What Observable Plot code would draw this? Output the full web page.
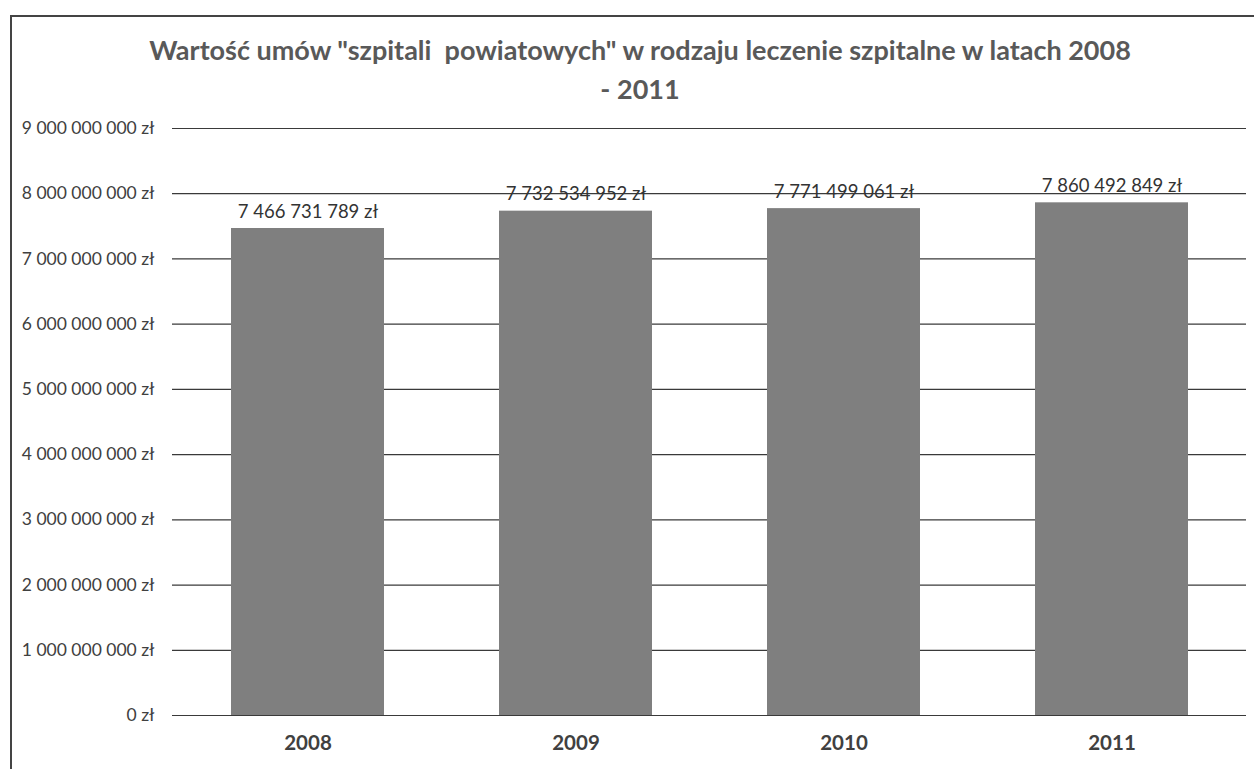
<!DOCTYPE html>
<html>
<head>
<meta charset="utf-8">
<script src="https://cdn.jsdelivr.net/npm/d3@7"></script>
<script src="https://cdn.jsdelivr.net/npm/@observablehq/plot@0.6"></script>
<style>
  html, body { margin: 0; padding: 0; background: #fff; overflow: hidden; }
  #wrap { position: relative; width: 1254px; height: 769px; overflow: hidden; font-family: Lato, "Open Sans", sans-serif; }
  #chart { position: absolute; left: 0; top: 0; }
  #frameL { position: absolute; left: 10px; top: 16px; width: 1.5px; height: 760px; background: #444; }
  #frameT { position: absolute; left: 10px; top: 15px; width: 1250px; height: 1.5px; background: #444; }
  #title { position: absolute; left: 0; top: 30px; width: 1280px; text-align: center; font-weight: bold; font-size: 27px; line-height: 39px; color: #595959; }
</style>
</head>
<body>
<div id="wrap">
  <div id="chart"></div>
  <div id="frameL"></div>
  <div id="frameT"></div>
  <div id="title">Wartość umów "szpitali&nbsp; powiatowych" w rodzaju leczenie szpitalne w latach 2008<br>- 2011</div>
</div>
<script>
const years = ["2008", "2009", "2010", "2011"];
const values = [7466731789, 7732534952, 7771499061, 7860492849];
const yTicks = [0, 1e9, 2e9, 3e9, 4e9, 5e9, 6e9, 7e9, 8e9, 9e9];

const data = years.map((y, i) => ({year: y, value: values[i]}));
const fmt = v => d3.format(",")(v).replace(/,/g, " ") + " zł";

const chart = Plot.plot({
  width: 1254,
  height: 769,
  marginTop: 128,
  marginBottom: 54,
  marginLeft: 172,
  marginRight: 8,
  style: {fontFamily: "Lato, 'Open Sans', sans-serif", background: "transparent"},
  x: {domain: years, paddingInner: 0.43, paddingOuter: 0.215, label: null},
  y: {domain: [0, 9e9], label: null},
  marks: [
    Plot.ruleY(yTicks, {stroke: "#3a3a3a", strokeWidth: 1.2}),
    Plot.barY(data, {x: "year", y: "value", fill: "#7f7f7f"}),
    Plot.text(data, {x: "year", y: "value", text: d => fmt(d.value), lineAnchor: "bottom", dy: -11, fontSize: 18.5, fill: "#333"}),
    Plot.axisY({ticks: yTicks, tickFormat: fmt, tickSize: 0, tickPadding: 18, fontSize: 17.5, fill: "#404040"}),
    Plot.axisX({tickSize: 0, tickPadding: 20, fontSize: 20.5, fontWeight: "bold", fill: "#404040"})
  ]
});
document.getElementById("chart").appendChild(chart);
</script>
</body>
</html>
